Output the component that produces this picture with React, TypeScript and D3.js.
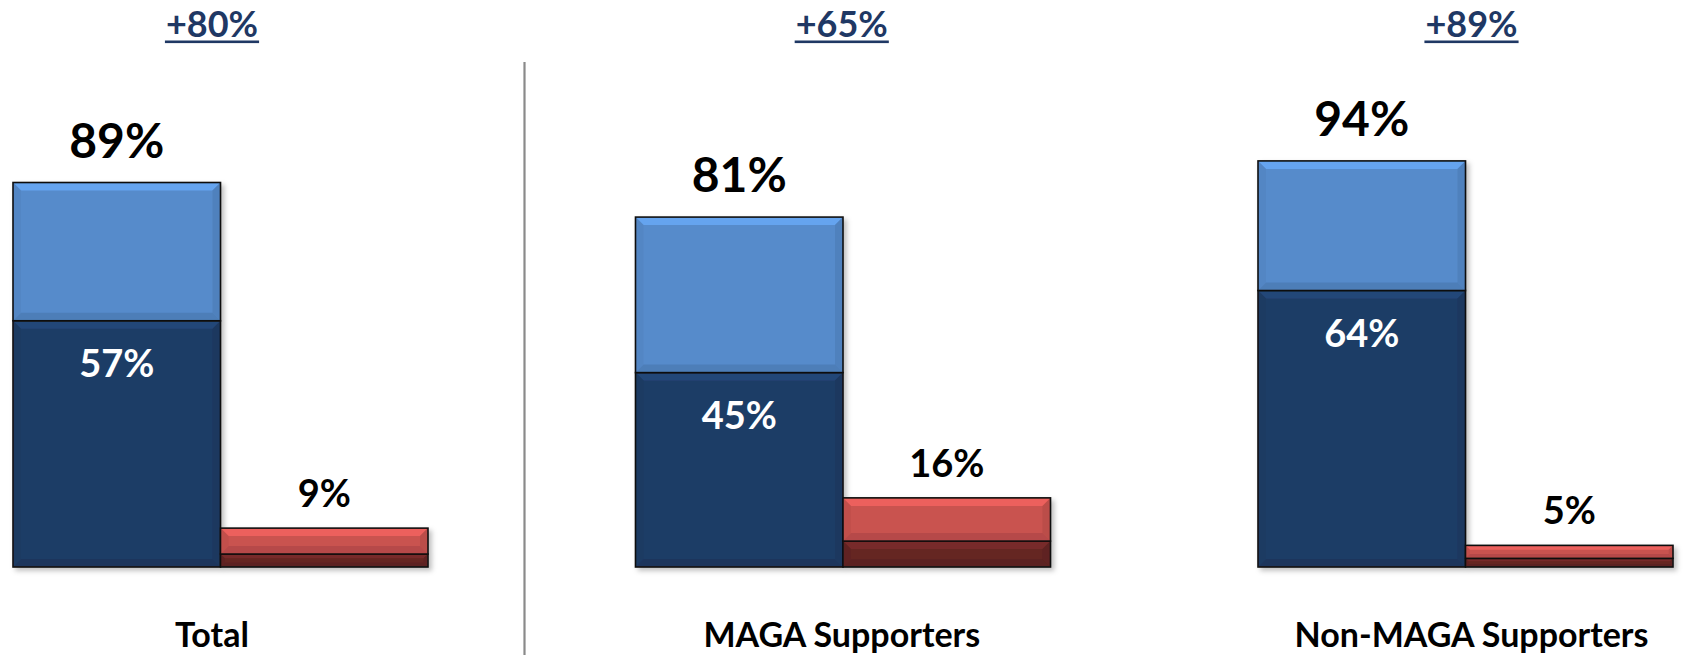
import React from "react";
import * as d3 from "d3";

const categories = ["Total", "MAGA Supporters", "Non-MAGA Supporters"];
const netLabels = ["+80%", "+65%", "+89%"];
// blue (favor) bar: strong + somewhat = total
const strongFavor = [57, 45, 64];
const totalFavor = [89, 81, 94];
// red (oppose) bar: strong + somewhat = total
const strongOppose = [3, 6, 2];
const totalOppose = [9, 16, 5];

const W = 1683;
const H = 655;
const FONT = "Lato, 'Open Sans', sans-serif";

const colors = {
  lightBlue: "#568bcb",
  darkBlue: "#1f3c66",
  lightRed: "#c9534f",
  darkRed: "#652624",
  header: "#1f3864",
};

function shade(c: string, k: number) {
  const col = d3.color(c)!;
  return k > 0 ? col.brighter(k).formatHex() : col.darker(-k).formatHex();
}

function BevelRect({ x, y, w, h, fill }: { x: number; y: number; w: number; h: number; fill: string }) {
  const b = Math.min(8, h / 3);
  const x1 = x + w;
  const y1 = y + h;
  const pts = (arr: number[][]) => arr.map((p) => p.join(",")).join(" ");
  return (
    <g>
      <rect x={x} y={y} width={w} height={h} fill={fill} />
      <polygon points={pts([[x, y], [x1, y], [x1 - b, y + b], [x + b, y + b]])} fill={shade(fill, 0.5)} opacity={0.9} />
      <polygon points={pts([[x, y1], [x1, y1], [x1 - b, y1 - b], [x + b, y1 - b]])} fill={shade(fill, -0.35)} opacity={0.8} />
      <polygon points={pts([[x, y], [x + b, y + b], [x + b, y1 - b], [x, y1]])} fill={shade(fill, -0.15)} opacity={0.7} />
      <polygon points={pts([[x1, y], [x1 - b, y + b], [x1 - b, y1 - b], [x1, y1]])} fill={shade(fill, -0.3)} opacity={0.7} />
      <rect x={x} y={y} width={w} height={h} fill="none" stroke="#111" strokeWidth={1.6} />
    </g>
  );
}

function Header({ x, label }: { x: number; label: string }) {
  const ref = React.useRef<SVGTextElement>(null);
  const [wd, setWd] = React.useState(92);
  React.useLayoutEffect(() => {
    if (ref.current) setWd(ref.current.getBBox().width);
  }, [label]);
  return (
    <g>
      <text ref={ref} x={x} y={37} textAnchor="middle" fontSize={36} fontWeight={700} fill={colors.header}>
        {label}
      </text>
      <rect x={x - wd / 2 - 1} y={40.5} width={wd + 2} height={2.6} fill={colors.header} />
    </g>
  );
}

export default function App() {
  const x = d3.scaleBand<string>().domain(categories).range([13, 1673]).paddingInner(1 / 3).paddingOuter(0);
  const inner = d3.scaleBand<string>().domain(["favor", "oppose"]).range([0, x.bandwidth()]).padding(0);
  const y = d3.scaleLinear().domain([0, 100]).range([567, 135]);
  const labelX = d3.scalePoint<string>().domain(categories).range([212, 1471.5]);
  const bw = inner.bandwidth();

  return (
    <svg width={W} height={H} style={{ position: "absolute", left: 0, top: 0, background: "#fff" }} fontFamily={FONT}>
      <defs>
        <filter id="sh" x="-5%" y="-5%" width="115%" height="115%">
          <feDropShadow dx={3} dy={3} stdDeviation={2.5} floodColor="#000" floodOpacity={0.25} />
        </filter>
      </defs>
      <line x1={524.5} x2={524.5} y1={62} y2={H} stroke="#8a8a8a" strokeWidth={2.2} />
      {categories.map((c, i) => {
        const gx = x(c)!;
        const bx = gx + inner("favor")!;
        const rx = gx + inner("oppose")!;
        const lx = labelX(c)!;
        return (
          <g key={c}>
            <g filter="url(#sh)">
              <BevelRect x={bx} y={y(strongFavor[i])} w={bw} h={y(0) - y(strongFavor[i])} fill={colors.darkBlue} />
              <BevelRect x={bx} y={y(totalFavor[i])} w={bw} h={y(strongFavor[i]) - y(totalFavor[i])} fill={colors.lightBlue} />
              <BevelRect x={rx} y={y(strongOppose[i])} w={bw} h={y(0) - y(strongOppose[i])} fill={colors.darkRed} />
              <BevelRect x={rx} y={y(totalOppose[i])} w={bw} h={y(strongOppose[i]) - y(totalOppose[i])} fill={colors.lightRed} />
            </g>
            <text x={bx + bw / 2} y={y(totalFavor[i]) - 25} textAnchor="middle" fontSize={48} fontWeight={700} fill="#000">
              {totalFavor[i]}%
            </text>
            <text x={bx + bw / 2} y={y(strongFavor[i]) + 56} textAnchor="middle" fontSize={38} fontWeight={700} fill="#fff">
              {strongFavor[i]}%
            </text>
            <text x={rx + bw / 2} y={y(totalOppose[i]) - 21} textAnchor="middle" fontSize={38} fontWeight={700} fill="#000">
              {totalOppose[i]}%
            </text>
            <text x={lx} y={647} textAnchor="middle" fontSize={34} fontWeight={700} fill="#000">
              {c}
            </text>
            <Header x={lx} label={netLabels[i]} />
          </g>
        );
      })}
    </svg>
  );
}
